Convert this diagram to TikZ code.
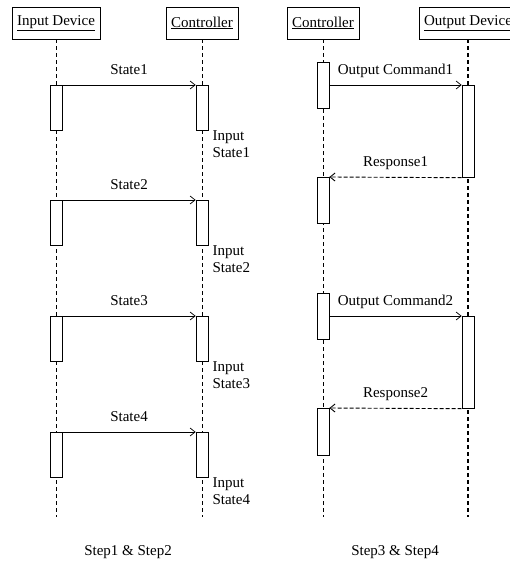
\documentclass[tikz,border=0pt]{standalone}
\usepackage{fontspec}
\setmainfont{Liberation Serif}
\usetikzlibrary{arrows.meta,calc}

\begin{document}
\begin{tikzpicture}[x=1pt,y=-1pt,>={Straight Barb[length=5pt,width=8pt]},
  every node/.style={font=\fontsize{15}{17}\selectfont},
  head/.style={draw,minimum height=32pt,inner xsep=5pt,line width=0.6pt},
  life/.style={dash pattern=on 4pt off 3pt,line width=0.9pt},
  act/.style={draw,fill=white,minimum width=12pt,anchor=north,inner sep=0pt,line width=0.7pt},
  msg/.style={->,line width=0.7pt},
  reply/.style={msg,line width=0.9pt,dash pattern=on 4pt off 2pt},
  lbl/.style={midway,above=10pt,inner sep=0pt,text depth=0pt}]
  \clip (0,0) rectangle (510,564);
  % heads and lifelines
  \node[head] (ID) at (56,23) {\underline{Input Device}};
  \node[head] (CL) at (202,23) {\underline{Controller}};
  \node[head] (CR) at (323,23) {\underline{Controller}};
  \node[head] (OD) at (468,23) {\underline{Output Device}};
  \foreach \n in {ID,CL,CR}
    \draw[life] (\n.south) -- (\n.south |- 0,517);
  \draw[life,line width=1.3pt] (OD.south) -- (OD.south |- 0,517);
  % step 1 & 2
  \foreach \y [count=\i] in {85,200,316,432} {
    \node[act,minimum height=45pt] (in\i) at (56,\y) {};
    \node[act,minimum height=45pt] (ct\i) at (202,\y) {};
    \draw[msg] (in\i.north east) -- (ct\i.north west) node[lbl] {State\i};
    \node[anchor=north west,align=left,inner sep=0pt] (is\i) at ($(ct\i.south east)+(4,0)$) {Input\\State\i};
  }
  % step 3 & 4
  \node[act,minimum height=46pt] (c1) at (323,62) {};
  \node[act,minimum height=46pt] (c2) at (323,177) {};
  \node[act,minimum height=46pt] (c3) at (323,293) {};
  \node[act,minimum height=47pt] (c4) at (323,408) {};
  \node[act,minimum height=92pt] (o1) at (468,85) {};
  \node[act,minimum height=92pt] (o2) at (468,316) {};
  \draw[msg] (c1.east |- o1.north) -- (o1.north west) node[lbl] {Output Command1};
  \draw[reply] (o1.south west) -- (c2.north east) node[lbl] {Response1};
  \draw[msg] (c3.east |- o2.north) -- (o2.north west) node[lbl] {Output Command2};
  \draw[reply] (o2.south west) -- (c4.north east) node[lbl] {Response2};
  \node (s12) at (128,552) {Step1 \& Step2};
  \node (s34) at (395,552) {Step3 \& Step4};
\end{tikzpicture}
\end{document}
